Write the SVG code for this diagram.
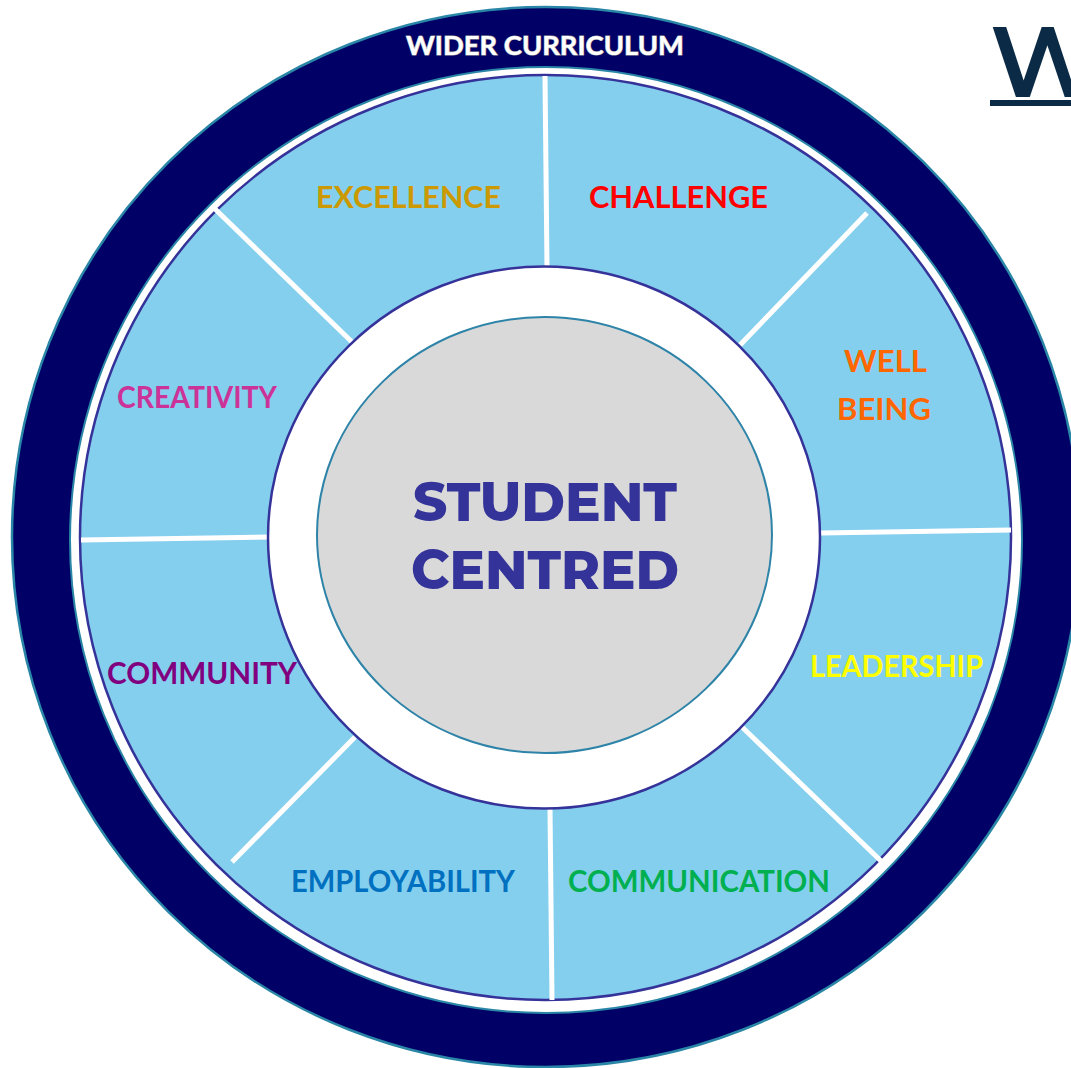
<svg xmlns="http://www.w3.org/2000/svg" width="1071" height="1068" viewBox="0 0 1071 1068">
<style>
.lbl{font-family:Lato,"Open Sans","Liberation Sans",sans-serif;font-weight:bold;font-size:30px;text-anchor:middle}
.div{stroke:#ffffff;stroke-width:5;stroke-linecap:butt}
.ctr{font-family:Montserrat,Inter,"Open Sans","Liberation Sans",sans-serif;font-weight:800;font-size:54px;fill:#333399;text-anchor:middle}
</style>
<rect width="1071" height="1068" fill="#ffffff"/>
<g id="outer-ring">
<ellipse cx="546" cy="537" rx="534" ry="530" fill="#000066" stroke="#2a86a6" stroke-width="2.5"/>
<ellipse cx="546" cy="540" rx="476" ry="473" fill="#ffffff" stroke="#2a86a6" stroke-width="2"/>
<text x="545" y="55" textLength="278" lengthAdjust="spacingAndGlyphs" style="font-family:Lato,'Open Sans','Liberation Sans',sans-serif;font-weight:bold;font-size:27px;text-anchor:middle;fill:#ffffff;stroke:#a6a6a6;stroke-width:1.2;paint-order:stroke">WIDER CURRICULUM</text>
</g>
<g id="values-ring">
<ellipse cx="545.5" cy="537.5" rx="465.5" ry="462.5" fill="#85cfee" stroke="#353399" stroke-width="2.5"/>
</g>
<g id="connectors">
<line class="div" x1="545" y1="76" x2="547" y2="267"/>
<line class="div" x1="867" y1="213" x2="740" y2="345"/>
<line class="div" x1="820" y1="533" x2="1011" y2="530"/>
<line class="div" x1="742" y1="727" x2="881" y2="861"/>
<line class="div" x1="550" y1="808" x2="552" y2="1000"/>
<line class="div" x1="355" y1="737" x2="232" y2="862"/>
<line class="div" x1="81" y1="540" x2="270" y2="537"/>
<line class="div" x1="214" y1="208" x2="353" y2="343"/>
</g>
<g id="inner-ring">
<ellipse cx="544" cy="537.5" rx="276" ry="271" fill="#ffffff" stroke="#353399" stroke-width="2.5"/>
</g>
<g id="student-centred">
<ellipse cx="544.5" cy="535" rx="227.5" ry="218" fill="#d9d9d9" stroke="#2e84a8" stroke-width="2"/>
<text class="ctr" x="545" y="521" textLength="264" lengthAdjust="spacingAndGlyphs">STUDENT</text>
<text class="ctr" x="545" y="589" textLength="268" lengthAdjust="spacingAndGlyphs">CENTRED</text>
</g>
<g id="excellence"><text class="lbl" x="408.5" y="208" fill="#cc9900" textLength="185" lengthAdjust="spacingAndGlyphs">EXCELLENCE</text></g>
<g id="challenge"><text class="lbl" x="678.5" y="208" fill="#ff0000" textLength="179" lengthAdjust="spacingAndGlyphs">CHALLENGE</text></g>
<g id="well-being">
<text class="lbl" x="885.5" y="372" fill="#ff6600" textLength="83" lengthAdjust="spacingAndGlyphs">WELL</text>
<text class="lbl" x="884" y="420" fill="#ff6600" textLength="94" lengthAdjust="spacingAndGlyphs">BEING</text>
</g>
<g id="creativity"><text class="lbl" x="197" y="408" fill="#cc3399" textLength="160" lengthAdjust="spacingAndGlyphs">CREATIVITY</text></g>
<g id="leadership"><text class="lbl" x="896.5" y="677" fill="#ffff00" textLength="173" lengthAdjust="spacingAndGlyphs">LEADERSHIP</text></g>
<g id="community"><text class="lbl" x="202" y="684" fill="#800080" textLength="190" lengthAdjust="spacingAndGlyphs">COMMUNITY</text></g>
<g id="employability"><text class="lbl" x="403" y="892" fill="#0070c0" textLength="224" lengthAdjust="spacingAndGlyphs">EMPLOYABILITY</text></g>
<g id="communication"><text class="lbl" x="699" y="892" fill="#00b050" textLength="262" lengthAdjust="spacingAndGlyphs">COMMUNICATION</text></g>
<g id="title-fragment">
<text x="990" y="97" style="font-family:Montserrat,Inter,'Liberation Sans',sans-serif;font-weight:600;font-size:100px;fill:#0b2a45">W</text>
<rect x="990" y="100" width="81" height="6" fill="#0b2a45"/>
</g>
</svg>
